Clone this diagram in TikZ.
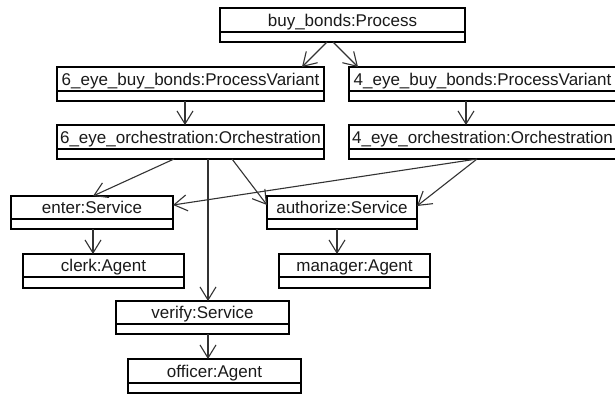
\documentclass[tikz,border=0pt]{standalone}
\usepackage{fontspec}
\setmainfont{Liberation Sans}
\usetikzlibrary{arrows.meta}
\definecolor{ink}{HTML}{1A1A1A}
\definecolor{wire}{HTML}{333333}
\tikzset{
  boxshape/.style={draw=black, line width=1.3pt, rectangle, inner sep=0pt, outer sep=0pt, anchor=north west},
  lbl/.style={inner sep=0pt, anchor=base, text=ink, font=\fontsize{17}{20}\selectfont},
  arr/.style={draw=wire, line width=1.1pt, -{Straight Barb[length=13pt,width=16pt,line width=1.1pt]}},
}
\newcommand\umlbox[7]{%
  \node[boxshape, minimum width={(#4-#2)*1pt}, minimum height={(#6-#3)*1pt}] (#1) at (#2,#3) {};
  \draw[line width=1.3pt] (#2,#5) -- (#4,#5);
  \node[lbl] (#1-t) at ({(#2+#4)/2},{#5-5.5}) {#7};
}
\begin{document}
\begin{tikzpicture}[x=1pt,y=-1pt]
\useasboundingbox[fill=white] (0,0) rectangle (615,394);
% boxes: name, left, top, right, divider, bottom, text
\umlbox{bb}{220}{8}{465}{32}{42}{buy\_bonds:Process}
\umlbox{v6}{57}{67}{324}{91}{101}{6\_eye\_buy\_bonds:ProcessVariant}
\umlbox{v4}{349}{67}{616}{91}{101}{4\_eye\_buy\_bonds:ProcessVariant}
\umlbox{o6}{57}{125}{324}{149}{159}{6\_eye\_orchestration:Orchestration}
\umlbox{o4}{349}{125}{616}{149}{159}{4\_eye\_orchestration:Orchestration}
\umlbox{enter}{11}{196}{173}{219}{229}{enter:Service}
\umlbox{auth}{267}{196}{417}{219}{229}{authorize:Service}
\umlbox{clerk}{23}{254}{184}{277}{288}{clerk:Agent}
\umlbox{mgr}{279}{254}{430}{277}{288}{manager:Agent}
\umlbox{verify}{116}{301}{289}{324}{334}{verify:Service}
\umlbox{officer}{128}{359}{301}{383}{393}{officer:Agent}
% connectors
\draw[arr] ([xshift=107pt]bb.south west) -- ([xshift=245pt]v6.north west);
\draw[arr] ([xshift=113pt]bb.south west) -- ([xshift=9pt]v4.north west);
\draw[arr] ([xshift=128pt]v6.south west) -- ([xshift=128pt]o6.north west);
\draw[arr] ([xshift=117pt]v4.south west) -- ([xshift=117pt]o4.north west);
\draw[arr] ([xshift=117pt]o6.south west) -- ([xshift=82pt]enter.north west);
\draw[arr] ([xshift=151pt]o6.south west) -- ([xshift=92pt]verify.north west);
\draw[arr] ([xshift=175pt]o6.south west) -- ([yshift=-9pt]auth.north west);
\draw[arr] ([xshift=128pt]o4.south west) -- ([yshift=-9pt]enter.north east);
\draw[arr] ([xshift=128pt]o4.south west) -- ([yshift=-10pt]auth.north east);
\draw[arr] ([xshift=82pt]enter.south west) -- ([xshift=70pt]clerk.north west);
\draw[arr] ([xshift=70pt]auth.south west) -- ([xshift=58pt]mgr.north west);
\draw[arr] ([xshift=92pt]verify.south west) -- ([xshift=80pt]officer.north west);
\end{tikzpicture}
\end{document}
